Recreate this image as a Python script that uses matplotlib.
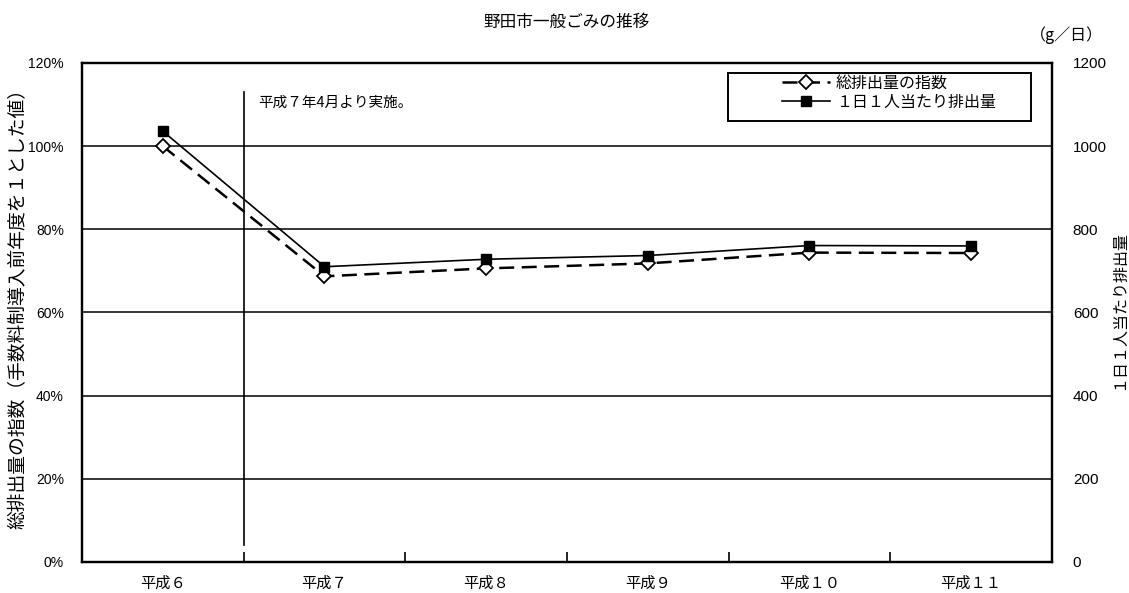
import numpy as np
import matplotlib.pyplot as plt
from matplotlib.patches import Rectangle
from matplotlib.ticker import FixedLocator, NullFormatter

plt.rcParams['font.family'] = ['Noto Sans CJK JP', 'DejaVu Sans']

# 年度別データ
years = ['平成６', '平成７', '平成８', '平成９', '平成１０', '平成１１']
index_pct = [100.0, 68.7, 70.6, 71.8, 74.4, 74.3]      # 総排出量の指数 (%)
per_capita = [1036, 710, 728, 737, 761, 760]            # 1日1人当たり排出量 (g/日)

left_ticks = [0, 20, 40, 60, 80, 100, 120]
right_ticks = [0, 200, 400, 600, 800, 1000, 1200]

fig = plt.figure(figsize=(11.29, 5.93), dpi=100)
ax = fig.add_axes([0.0726, 0.0523, 0.8592, 0.8415])
ax2 = ax.twinx()

x = np.arange(len(years))

# 総排出量の指数 (左軸)
ax.plot(x, index_pct, color='black', linestyle=(0, (6, 3)), linewidth=1.8,
        marker='D', markersize=7, markerfacecolor='white',
        markeredgecolor='black', markeredgewidth=1.3, zorder=4,
        label='総排出量の指数')

# 1日1人当たり排出量 (右軸)
ax2.plot(x, per_capita, color='black', linewidth=1.2,
         marker='s', markersize=6.5, markerfacecolor='black',
         markeredgecolor='black', zorder=4,
         label='１日１人当たり排出量')

ax.set_xlim(-0.5, len(years) - 0.5)
ax.set_ylim(0, 120)
ax2.set_ylim(0, 1200)

# 横グリッド
for v in left_ticks[1:-1]:
    ax.axhline(v, color='black', linewidth=1.1, zorder=1)

# 手数料制導入の区切り線
start = 0.5
ax.plot([start, start], [4, 113], color='black', linewidth=1.2, zorder=2)
ax.text(start + 0.09, 110.5, '平成７年4月より実施。', fontsize=10.5, va='center', ha='left')

# 目盛り
ax.yaxis.set_major_locator(FixedLocator(left_ticks))
ax.set_yticklabels([f'{v}%' for v in left_ticks], family=['Liberation Sans'], fontsize=10)
ax2.yaxis.set_major_locator(FixedLocator(right_ticks))
ax2.set_yticklabels([str(v) for v in right_ticks], family=['Liberation Sans'], fontsize=11)
ax.tick_params(axis='y', length=0, pad=13)
ax2.tick_params(axis='y', length=0, pad=15)

ax.xaxis.set_major_locator(FixedLocator(x[:-1] + 0.5))
ax.xaxis.set_major_formatter(NullFormatter())
ax.xaxis.set_minor_locator(FixedLocator(x))
ax.set_xticklabels(years, minor=True, fontsize=11)
ax.tick_params(axis='x', which='major', direction='in', length=7, width=1.2)
ax.tick_params(axis='x', which='minor', length=0, pad=9)

for a in (ax, ax2):
    for s in a.spines.values():
        s.set_linewidth(1.6)
        s.set_color('black')

# 軸タイトル
fig.text(0.0165, 0.487, '総排出量の指数（手数料制導入前年度を１とした値）', rotation=90,
         ha='center', va='center', fontsize=13.5)
fig.text(0.991, 0.478, '１日１人当たり排出量', rotation=90, ha='center', va='center',
         fontsize=11.5)

fig.text(0.502, 0.962, '野田市一般ごみの推移', ha='center', va='center', fontsize=12)
fig.text(0.945, 0.94, '（g／日）', ha='center', va='center', fontsize=11.5)

# 凡例 (枠は別に描く)
ax2.add_patch(Rectangle((0.666, 0.884), 0.312, 0.096, transform=ax2.transAxes,
                        facecolor='white', edgecolor='black', linewidth=1.4, zorder=5))
h1, l1 = ax.get_legend_handles_labels()
h2, l2 = ax2.get_legend_handles_labels()
leg = ax2.legend(h1 + h2, l1 + l2, loc='upper left', bbox_to_anchor=(0.722, 0.976),
                 frameon=False, fontsize=11.5, handlelength=3.0,
                 borderpad=0.0, labelspacing=0.12, handletextpad=0.35,
                 borderaxespad=0.0)
leg.set_zorder(6)

fig.savefig('out.png', dpi=100)
